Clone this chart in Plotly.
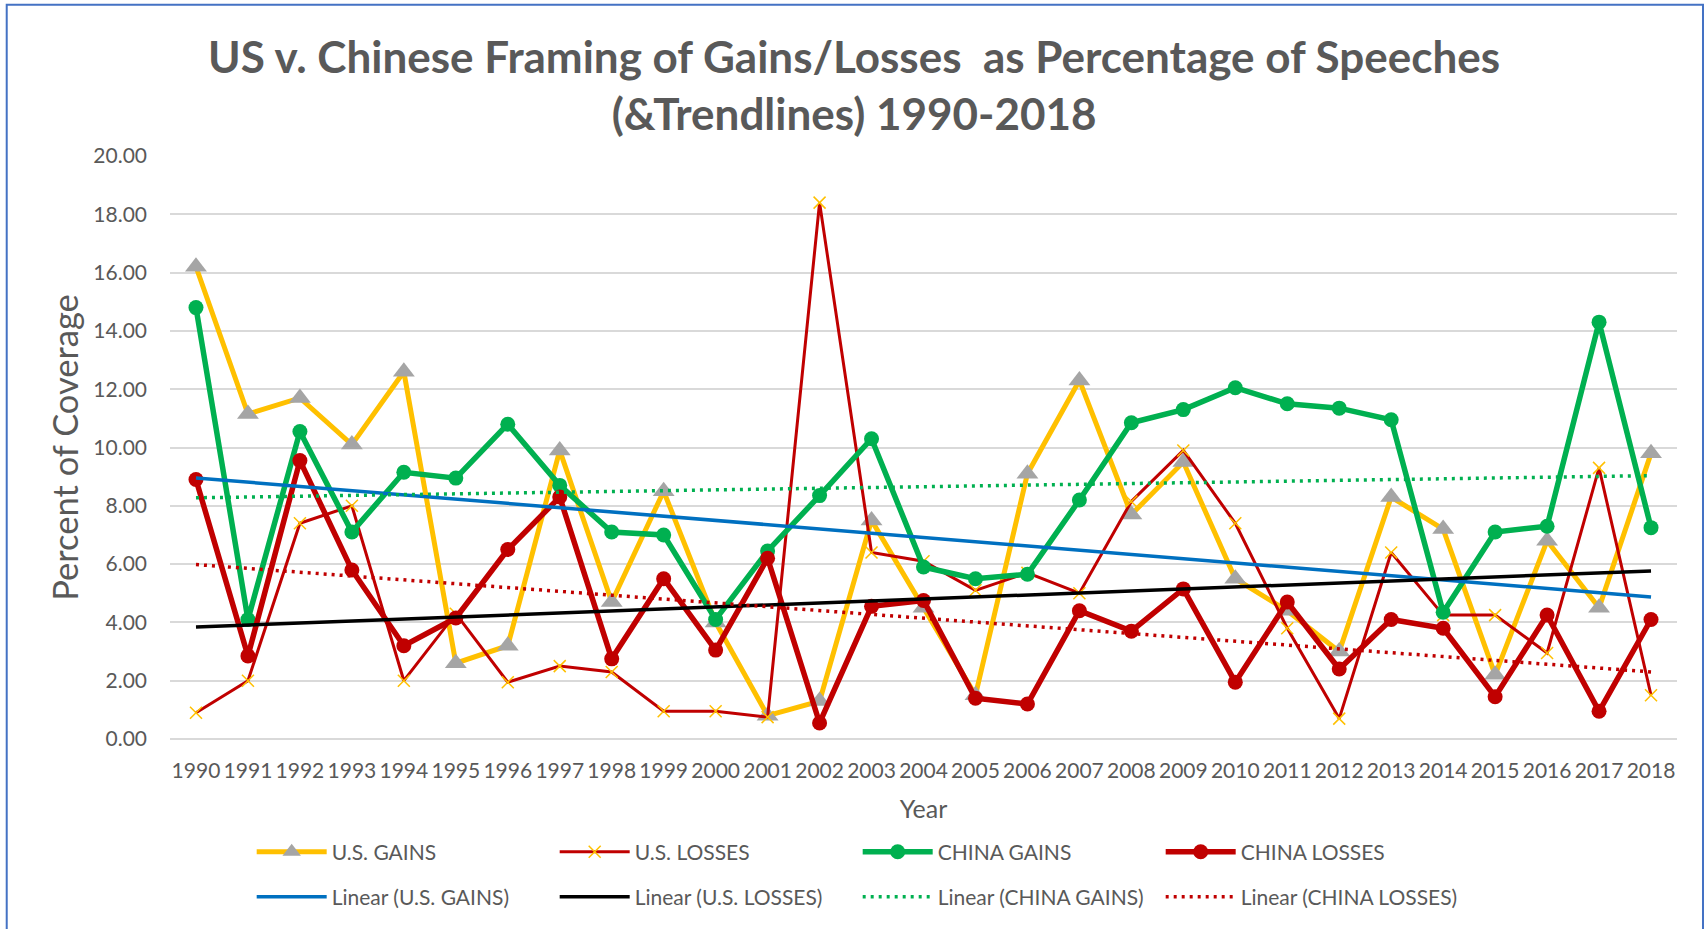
import numpy as np
import plotly.graph_objects as go

# ---------------- data ----------------
years = [str(y) for y in range(1990, 2019)]

us_gains = [16.2, 11.15, 11.7, 10.1, 12.6, 2.6, 3.2, 9.9, 4.7, 8.5,
            4.0, 0.8, 1.3, 7.5, 4.5, 1.5, 9.1, 12.3, 7.7, 9.5,
            5.5, 4.4, 3.0, 8.3, 7.2, 2.2, 6.8, 4.5, 9.8]
us_losses = [0.9, 2.0, 7.4, 8.0, 2.0, 4.3, 1.95, 2.5, 2.3, 0.95,
             0.95, 0.75, 18.4, 6.4, 6.1, 5.1, 5.7, 5.0, 8.15, 9.9,
             7.4, 3.8, 0.7, 6.4, 4.25, 4.25, 2.95, 9.3, 1.5]
china_gains = [14.8, 4.1, 10.55, 7.1, 9.15, 8.95, 10.8, 8.7, 7.1, 7.0,
               4.1, 6.45, 8.35, 10.3, 5.9, 5.5, 5.65, 8.2, 10.85, 11.3,
               12.05, 11.5, 11.35, 10.95, 4.35, 7.1, 7.3, 14.3, 7.25]
china_losses = [8.9, 2.85, 9.55, 5.8, 3.2, 4.15, 6.5, 8.3, 2.75, 5.5,
                3.05, 6.2, 0.55, 4.55, 4.75, 1.4, 1.2, 4.4, 3.7, 5.15,
                1.95, 4.7, 2.4, 4.1, 3.8, 1.45, 4.25, 0.95, 4.1]

series_names = ["U.S. GAINS", "U.S. LOSSES", "CHINA GAINS", "CHINA LOSSES"]
title_text = ("US v. Chinese Framing of Gains/Losses  as Percentage of Speeches"
              "<br>(&Trendlines) 1990-2018")
y_title = "Percent of Coverage"
x_title = "Year"

# ---------------- styling ----------------
YELLOW = "#FFC000"
GRAY = "#A5A5A5"
RED = "#C00000"
GREEN = "#00B050"
BLUE = "#0070C0"
BLACK = "#000000"
TEXT = "#595959"
GRID = "#D9D9D9"
BORDER = "#4472C4"
FONT = "Lato"

W, H = 1705, 929
L, Rr, T, Bb = 170.3, 1677.5, 156.2, 739.0
PW, PH = Rr - L, Bb - T


def fx(px):
    return (px - L) / PW


def fy(py):
    return (Bb - py) / PH


def trend(vals):
    idx = np.arange(len(vals))
    m, c = np.polyfit(idx, np.array(vals, dtype=float), 1)
    return m * idx + c


fig = go.Figure()

fig.add_trace(go.Scatter(
    x=years, y=us_gains, name=series_names[0], mode="lines+markers",
    line=dict(color=YELLOW, width=5),
    marker=dict(symbol="triangle-up", size=19, color=GRAY),
    legend="legend"))
fig.add_trace(go.Scatter(
    x=years, y=us_losses, name=series_names[1], mode="lines+markers",
    line=dict(color=RED, width=3),
    marker=dict(symbol="x-thin", size=12, color=YELLOW,
                line=dict(color=YELLOW, width=1.5)),
    legend="legend"))
fig.add_trace(go.Scatter(
    x=years, y=china_gains, name=series_names[2], mode="lines+markers",
    line=dict(color=GREEN, width=5.5),
    marker=dict(symbol="circle", size=15, color=GREEN),
    legend="legend"))
fig.add_trace(go.Scatter(
    x=years, y=china_losses, name=series_names[3], mode="lines+markers",
    line=dict(color=RED, width=5.5),
    marker=dict(symbol="circle", size=15, color=RED),
    legend="legend"))

trend_styles = [
    (us_gains, "Linear (U.S. GAINS)", dict(color=BLUE, width=3.5)),
    (us_losses, "Linear (U.S. LOSSES)", dict(color=BLACK, width=3.5)),
    (china_gains, "Linear (CHINA GAINS)", dict(color=GREEN, width=3.5, dash="3px,5px")),
    (china_losses, "Linear (CHINA LOSSES)", dict(color=RED, width=3.5, dash="3px,5px")),
]
for vals, nm, ln in trend_styles:
    fig.add_trace(go.Scatter(x=years, y=trend(vals), name=nm, mode="lines",
                             line=ln, legend="legend2"))

legend_common = dict(
    orientation="h", xanchor="left", yanchor="middle",
    font=dict(family=FONT, size=21, color=TEXT),
    itemwidth=70, entrywidth=218, entrywidthmode="pixels",
    bgcolor="rgba(0,0,0,0)", itemclick=False, itemdoubleclick=False,
    tracegroupgap=0,
)

fig.update_layout(
    width=W, height=H,
    margin=dict(l=L, r=W - Rr, t=T, b=H - Bb, autoexpand=False),
    paper_bgcolor="white", plot_bgcolor="white",
    font=dict(family=FONT, color=TEXT),
    xaxis=dict(type="category", range=[-0.5, 28.5], showgrid=False,
               showline=False, ticks="", zeroline=False,
               tickfont=dict(family=FONT, size=21, color=TEXT),
               ticklabelstandoff=17,
               title=dict(text=x_title, standoff=19,
                          font=dict(family=FONT, size=25, color=TEXT))),
    yaxis=dict(range=[0, 20], dtick=2, tickformat=".2f",
               showgrid=True, gridcolor=GRID, gridwidth=2,
               zeroline=True, zerolinecolor=GRID, zerolinewidth=2,
               showline=False, ticks="",
               tickfont=dict(family=FONT, size=21, color=TEXT),
               ticklabelstandoff=22,
               title=dict(text=y_title, standoff=4,
                          font=dict(family=FONT, size=34.5, color=TEXT))),
    legend=dict(x=fx(252), y=fy(852), **legend_common),
    legend2=dict(x=fx(252), y=fy(897), **legend_common),
    showlegend=True,
    annotations=[dict(text=title_text, xref="paper", yref="paper",
                      x=fx(W / 2 + 2), y=fy(85), xanchor="center", yanchor="middle",
                      showarrow=False, align="center",
                      font=dict(family=FONT, size=44, color=TEXT, weight="bold"))],
    shapes=[dict(type="rect", xref="paper", yref="paper",
                 x0=fx(7), x1=fx(1703.5), y0=fy(945), y1=fy(5),
                 line=dict(color=BORDER, width=2), fillcolor="rgba(0,0,0,0)",
                 layer="below")],
)

fig.write_html("out.html",
               config={"displayModeBar": False},
               post_script="document.body.style.margin='0';document.body.style.overflow='hidden';")
